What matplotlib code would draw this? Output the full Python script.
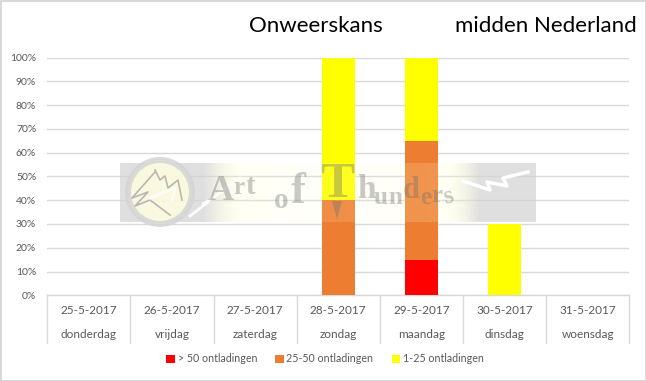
#!/usr/bin/env python3
# -*- coding: utf-8 -*-
import numpy as np
import matplotlib
matplotlib.use('Agg')
import matplotlib.pyplot as plt
from matplotlib.patches import Circle, Polygon

plt.rcParams['font.family'] = ['Lato', 'DejaVu Sans']

dates = ['25-5-2017', '26-5-2017', '27-5-2017', '28-5-2017', '29-5-2017', '30-5-2017', '31-5-2017']
days = ['donderdag', 'vrijdag', 'zaterdag', 'zondag', 'maandag', 'dinsdag', 'woensdag']
over_50 = [0, 0, 0, 0, 15, 0, 0]
from_25_to_50 = [0, 0, 0, 40, 50, 0, 0]
from_1_to_25 = [0, 0, 0, 60, 35, 30, 0]

W, H = 646, 381
TEXT = '#595959'
LINE = '#d9d9d9'

fig = plt.figure(figsize=(W / 100, H / 100), dpi=100)
fig.patch.set_edgecolor(LINE)
fig.patch.set_linewidth(2)

# plot area in pixels: x 47-629, y 57-295
ax = fig.add_axes([47.3 / W, 1 - 295.3 / H, 582 / W, 237.8 / H])

x = np.arange(len(dates))
red = np.array(over_50)
orange = np.array(from_25_to_50)
yellow = np.array(from_1_to_25)
ax.bar(x, red, 0.4, color='#ff0000', label='> 50 ontladingen', zorder=3)
ax.bar(x, orange, 0.4, bottom=red, color='#ed7d31', label='25-50 ontladingen', zorder=3)
ax.bar(x, yellow, 0.4, bottom=red + orange, color='#ffff00', label='1-25 ontladingen', zorder=3)

ax.set_xlim(-0.5, 6.5)
ax.set_ylim(0, 100)
ax.set_yticks(range(0, 101, 10))
ax.set_yticklabels(['%d%%' % v for v in range(0, 101, 10)], color=TEXT, fontsize=7.5)
ax.tick_params(axis='y', length=0, pad=8)
ax.set_xticks([])
ax.grid(axis='y', color=LINE, linewidth=1, zorder=0)
for s in ['top', 'right', 'left']:
    ax.spines[s].set_visible(False)
ax.spines['bottom'].set_color(LINE)
ax.spines['bottom'].set_linewidth(1)

# two level category axis like excel
trans = ax.get_xaxis_transform()
for b in np.arange(-0.5, 7):
    ax.plot([b, b], [0, -0.2], color=LINE, linewidth=1, transform=trans, clip_on=False)
for i in x:
    ax.text(i, -0.066, dates[i], transform=trans, ha='center', va='center', color=TEXT, fontsize=8.5)
    ax.text(i, -0.165, days[i], transform=trans, ha='center', va='center', color=TEXT, fontsize=8.5)

ax.legend(loc='center', bbox_to_anchor=(325 / W, 1 - 359 / H), bbox_transform=fig.transFigure,
          ncol=3, frameon=False, fontsize=7.7, labelcolor=TEXT, handlelength=0.8, handleheight=0.8,
          handletextpad=0.25, columnspacing=1.7)

fig.text(249 / W, 1 - 26 / H, 'Onweerskans', fontsize=16, color='black', va='center')
fig.text(455 / W, 1 - 26 / H, 'midden Nederland', fontsize=16, color='black', va='center')

# watermark on top of the chart, drawn in pixel coordinates
wm = fig.add_axes([0, 0, 1, 1], zorder=5)
wm.axis('off')
wm.patch.set_alpha(0)

stops_x = [0, 0.2, 0.29, 0.5, 0.79, 0.865, 1]
stops_r = [210, 210, 255, 255, 255, 210, 210]
stops_g = [210, 210, 255, 255, 255, 210, 210]
stops_b = [210, 210, 200, 225, 200, 210, 210]
stops_a = [0.7, 0.7, 0.2, 0.13, 0.2, 0.7, 0.7]
grad = np.linspace(0, 1, 416)
img = np.dstack([np.interp(grad, stops_x, stops_r) / 255,
                 np.interp(grad, stops_x, stops_g) / 255,
                 np.interp(grad, stops_x, stops_b) / 255,
                 np.interp(grad, stops_x, stops_a)])
wm.imshow(img, extent=[120, 536, 222, 163], aspect='auto', zorder=1)
wm.set_xlim(0, W)
wm.set_ylim(H, 0)

wm.add_patch(Circle((160, 192), 32, facecolor='#fffde0', edgecolor='#d4d4d4', linewidth=4.3, alpha=0.85, zorder=2))
wm.plot([155, 132, 148, 135, 150, 170], [172, 198, 192, 206, 200, 215],
        color='#a8a8a8', linewidth=1.2, alpha=0.8, zorder=3)
wm.plot([155, 160, 165, 168, 178, 182], [170, 180, 176, 188, 180, 200], color='#a8a8a8', linewidth=1.2,
        alpha=0.8, zorder=3)
wm.plot([150, 175, 172], [198, 188, 200], color='white', linewidth=2, alpha=0.8, zorder=3)
wm.plot([190, 208, 203, 225, 219, 240], [216, 202, 204, 190, 192, 178], color='white', linewidth=2, alpha=0.9, zorder=3)
wm.plot([463, 490, 487, 507, 503, 528], [181, 190, 182, 186, 178, 172], color='white', linewidth=2.5, zorder=3)
wm.plot([262, 285, 280, 305], [212, 197, 199, 180], color='white', linewidth=2, alpha=0.8, zorder=3)
wm.plot([375, 390, 386, 403], [220, 206, 208, 196], color='white', linewidth=2, alpha=0.8, zorder=3)

wm_letters = [('A', 221, 192, 26, 0), ('r', 239, 188, 18, 0), ('t', 250, 186, 21, 0),
              ('o', 281, 201, 21, 0), ('f', 298, 192, 32, 0), ('T', 337, 185, 37, 0),
              ('h', 366, 189, 24, 0), ('u', 381, 197, 18, 0), ('n', 395, 197, 18, 0),
              ('d', 411, 190, 22, 0), ('e', 426, 197, 18, 0), ('r', 437, 195, 18, 0),
              ('s', 448, 196, 18, 15)]
for letter, lx, ly, size, rot in wm_letters:
    wm.text(lx, ly, letter, family='Liberation Serif', fontsize=size, color='#707070', alpha=0.38,
            ha='center', va='center', rotation=rot, fontweight='bold', zorder=4)
# long tail of the logo T
wm.add_patch(Polygon([(332, 201), (342, 201), (337, 219)], facecolor='#707070', edgecolor='none', alpha=0.38, zorder=4))

fig.savefig('out.png', dpi=100, edgecolor=fig.get_edgecolor())
